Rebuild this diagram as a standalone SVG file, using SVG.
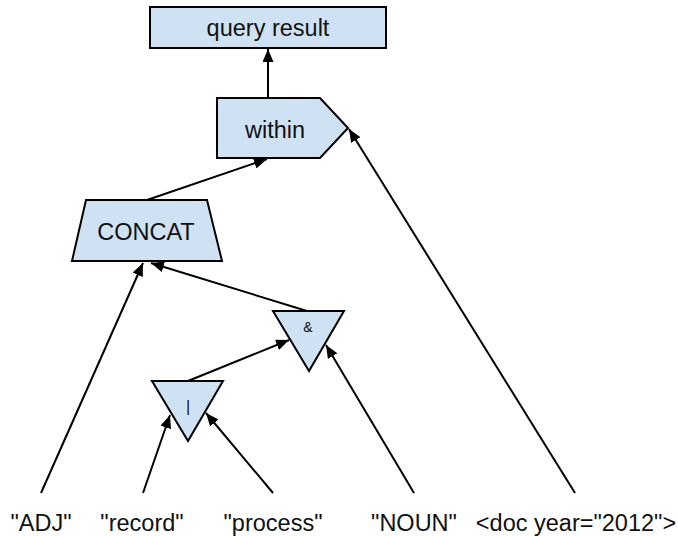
<svg xmlns="http://www.w3.org/2000/svg" width="678" height="536" viewBox="0 0 678 536">
<style>
.node{fill:#cfe2f3;stroke:#000;stroke-width:2;stroke-linejoin:miter}
.lbl{font-family:"Liberation Sans",Arial,sans-serif;fill:#111;text-anchor:middle}
.big{font-size:23.5px}
.edge{stroke:#000;stroke-width:2;fill:none;marker-end:url(#ah)}
</style>
<defs>
<marker id="ah" markerUnits="userSpaceOnUse" markerWidth="14" markerHeight="12" refX="13" refY="5.5" orient="auto" viewBox="0 0 14 12">
<path d="M0,0 L13,5.5 L0,11 z" fill="#000"/>
</marker>
</defs>
<rect width="678" height="536" fill="#fff"/>
<g id="connectors">
<line class="edge" x1="268" y1="98" x2="268" y2="49"/>
<line class="edge" x1="147" y1="200" x2="267" y2="159"/>
<line class="edge" x1="41" y1="493" x2="143" y2="263"/>
<line class="edge" x1="307" y1="311" x2="151" y2="263"/>
<line class="edge" x1="188" y1="381" x2="289" y2="340"/>
<line class="edge" x1="414" y1="493" x2="326" y2="345"/>
<line class="edge" x1="143" y1="493" x2="170" y2="415"/>
<line class="edge" x1="273" y1="493" x2="206" y2="413"/>
<line class="edge" x1="575" y1="493" x2="349" y2="129"/>
</g>
<g id="query-result">
<rect class="node" x="150" y="7" width="236" height="41"/>
<text class="lbl big" x="268" y="35.5">query result</text>
</g>
<g id="within">
<polygon class="node" points="217,98 320,98 348,128 320,158 217,158"/>
<text class="lbl big" x="275" y="137.5">within</text>
</g>
<g id="concat">
<polygon class="node" points="86,200 207,200 222,261 72,261"/>
<text class="lbl big" x="146" y="240">CONCAT</text>
</g>
<g id="and">
<polygon class="node" points="273,311 344,311 309,371"/>
<text class="lbl" x="308" y="332" font-size="14">&amp;</text>
</g>
<g id="or">
<polygon class="node" points="152,381 223,381 188,441"/>
<text class="lbl" x="188" y="412" font-size="16">|</text>
</g>
<g id="adj"><text class="lbl big" x="41" y="531">"ADJ"</text></g>
<g id="record"><text class="lbl big" x="142" y="531">"record"</text></g>
<g id="process"><text class="lbl big" x="273" y="531">"process"</text></g>
<g id="noun"><text class="lbl big" x="414" y="531">"NOUN"</text></g>
<g id="doc"><text class="lbl big" x="576" y="531">&lt;doc year="2012"&gt;</text></g>
</svg>
